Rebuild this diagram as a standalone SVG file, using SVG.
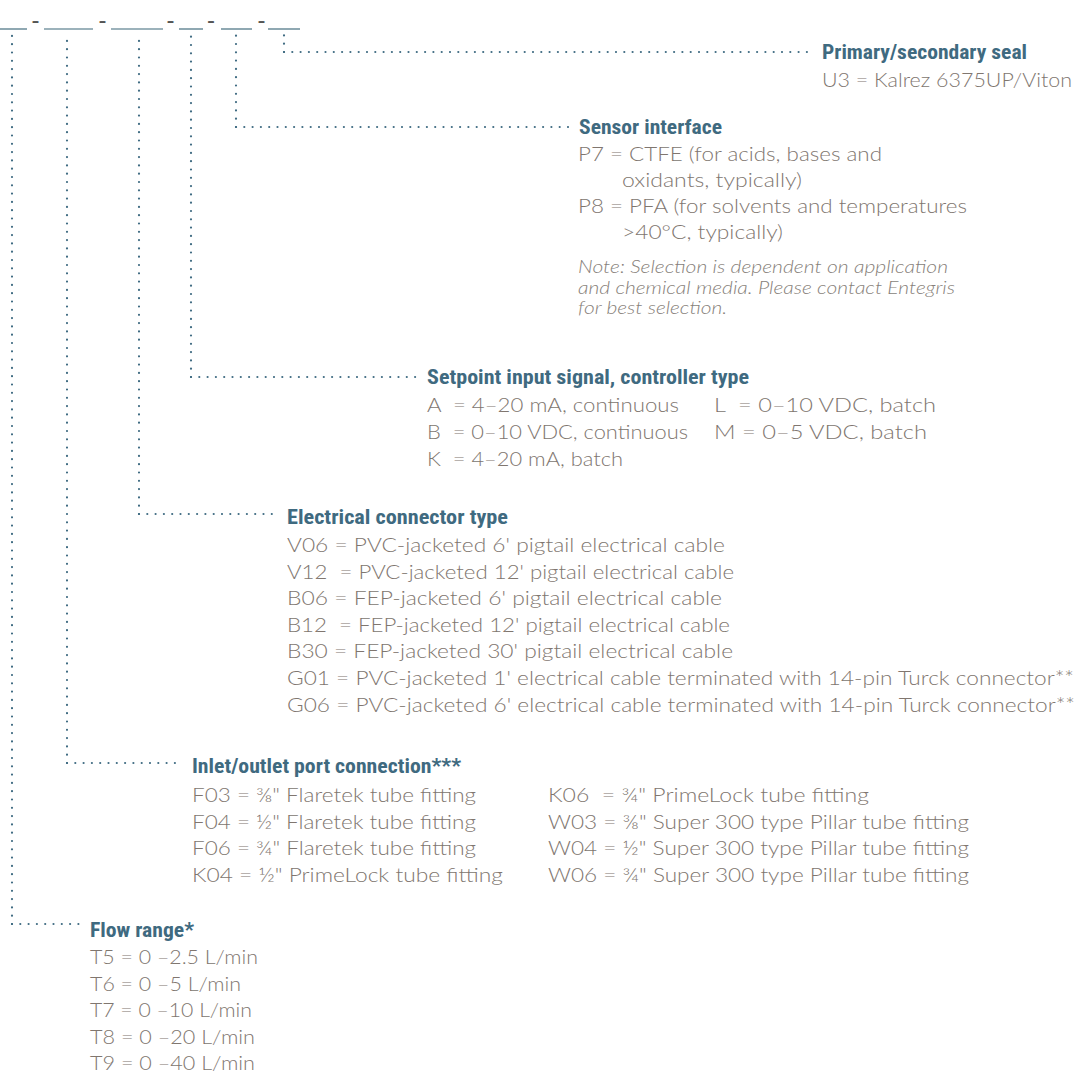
<svg xmlns="http://www.w3.org/2000/svg" width="1078" height="1075" viewBox="0 0 1078 1075">
<style>
.h{font-family:'Liberation Sans Narrow','Roboto Condensed','Liberation Sans',Arial,sans-serif;font-weight:700;font-size:20.5px;fill:#3f6a80}
.b{font-family:Lato,'Open Sans','Liberation Sans',sans-serif;font-weight:300;font-size:19.5px;fill:#80766f}
.n{font-family:Lato,'Open Sans','Liberation Sans',sans-serif;font-weight:300;font-style:italic;font-size:17.5px;fill:#877f7a}
.u{stroke:#7b99a4;stroke-width:1.7;fill:none}
.hy{font-family:'Liberation Sans',Arial,sans-serif;font-size:24px;fill:#555;text-anchor:middle}
.dot{fill:none;stroke:#3f6b82;stroke-width:2.2;stroke-linecap:round;stroke-dasharray:0 8.3}
</style>
<rect width="1078" height="1075" fill="#fff"/>
<g id="code">
<line class="u" x1="0" y1="29" x2="27" y2="29"/>
<line class="u" x1="44" y1="29" x2="93" y2="29"/>
<line class="u" x1="111" y1="29" x2="163" y2="29"/>
<line class="u" x1="179" y1="29" x2="203" y2="29"/>
<line class="u" x1="221" y1="29" x2="252" y2="29"/>
<line class="u" x1="268" y1="29" x2="300" y2="29"/>
<text class="hy" x="35.5" y="27.5">-</text>
<text class="hy" x="102.5" y="27.5">-</text>
<text class="hy" x="170.5" y="27.5">-</text>
<text class="hy" x="211" y="27.5">-</text>
<text class="hy" x="261.5" y="27.5">-</text>
</g>
<g id="connectors">
<path class="dot" d="M284,52 V34"/><path class="dot" d="M284,52 H809"/>
<path class="dot" d="M236,127 V34"/><path class="dot" d="M236,127 H570"/>
<path class="dot" d="M191,377 V34"/><path class="dot" d="M191,377 H420"/>
<path class="dot" d="M139,514 V34"/><path class="dot" d="M139,514 H277"/>
<path class="dot" d="M67,763 V34"/><path class="dot" d="M67,763 H183"/>
<path class="dot" d="M12,924 V34"/><path class="dot" d="M12,924 H82"/>
</g>
<g id="seal">
<text class="h" x="822" y="59" textLength="205" lengthAdjust="spacingAndGlyphs">Primary/secondary seal</text>
<text class="b" x="822" y="87" textLength="250" lengthAdjust="spacingAndGlyphs">U3 = Kalrez 6375UP/Viton</text>
</g>
<g id="sensor">
<text class="h" x="579" y="134" textLength="143" lengthAdjust="spacingAndGlyphs">Sensor interface</text>
<text class="b" x="578" y="161" textLength="304" lengthAdjust="spacingAndGlyphs">P7 = CTFE (for acids, bases and</text>
<text class="b" x="622" y="187" textLength="180" lengthAdjust="spacingAndGlyphs">oxidants, typically)</text>
<text class="b" x="578" y="213" textLength="389" lengthAdjust="spacingAndGlyphs">P8 = PFA (for solvents and temperatures</text>
<text class="b" x="622" y="239" textLength="161" lengthAdjust="spacingAndGlyphs">&gt;40°C, typically)</text>
<text class="n" x="578" y="273" textLength="370" lengthAdjust="spacingAndGlyphs">Note: Selection is dependent on application</text>
<text class="n" x="578" y="294" textLength="377" lengthAdjust="spacingAndGlyphs">and chemical media. Please contact Entegris</text>
<text class="n" x="578" y="314" textLength="149" lengthAdjust="spacingAndGlyphs">for best selection.</text>
</g>
<g id="setpoint">
<text class="h" x="427" y="384" textLength="322" lengthAdjust="spacingAndGlyphs">Setpoint input signal, controller type</text>
<text class="b" x="427" y="412" textLength="252" lengthAdjust="spacingAndGlyphs">A&#160; = 4–20 mA, continuous</text>
<text class="b" x="427" y="439" textLength="261" lengthAdjust="spacingAndGlyphs">B&#160; = 0–10 VDC, continuous</text>
<text class="b" x="427" y="466" textLength="196" lengthAdjust="spacingAndGlyphs">K&#160; = 4–20 mA, batch</text>
<text class="b" x="714" y="412" textLength="222" lengthAdjust="spacingAndGlyphs">L&#160; = 0–10 VDC, batch</text>
<text class="b" x="714" y="439" textLength="213" lengthAdjust="spacingAndGlyphs">M = 0–5 VDC, batch</text>
</g>
<g id="electrical">
<text class="h" x="287" y="524" textLength="221" lengthAdjust="spacingAndGlyphs">Electrical connector type</text>
<text class="b" x="287" y="552" textLength="438" lengthAdjust="spacingAndGlyphs">V06 = PVC-jacketed 6' pigtail electrical cable</text>
<text class="b" x="287" y="578.6" textLength="447" lengthAdjust="spacingAndGlyphs">V12&#160; = PVC-jacketed 12' pigtail electrical cable</text>
<text class="b" x="287" y="605.2" textLength="435" lengthAdjust="spacingAndGlyphs">B06 = FEP-jacketed 6' pigtail electrical cable</text>
<text class="b" x="287" y="631.8" textLength="443" lengthAdjust="spacingAndGlyphs">B12&#160; = FEP-jacketed 12' pigtail electrical cable</text>
<text class="b" x="287" y="658.4" textLength="446" lengthAdjust="spacingAndGlyphs">B30 = FEP-jacketed 30' pigtail electrical cable</text>
<text class="b" x="287" y="685" textLength="787" lengthAdjust="spacingAndGlyphs">G01 = PVC-jacketed 1' electrical cable terminated with 14-pin Turck connector**</text>
<text class="b" x="287" y="711.6" textLength="788" lengthAdjust="spacingAndGlyphs">G06 = PVC-jacketed 6' electrical cable terminated with 14-pin Turck connector**</text>
</g>
<g id="inlet">
<text class="h" x="192" y="773" textLength="269" lengthAdjust="spacingAndGlyphs">Inlet/outlet port connection***</text>
<text class="b" x="192" y="802" textLength="284" lengthAdjust="spacingAndGlyphs">F03 = ⅜" Flaretek tube fitting</text>
<text class="b" x="192" y="828.6" textLength="284" lengthAdjust="spacingAndGlyphs">F04 = ½" Flaretek tube fitting</text>
<text class="b" x="192" y="855.2" textLength="284" lengthAdjust="spacingAndGlyphs">F06 = ¾" Flaretek tube fitting</text>
<text class="b" x="192" y="881.8" textLength="311" lengthAdjust="spacingAndGlyphs">K04 = ½" PrimeLock tube fitting</text>
<text class="b" x="548" y="802" textLength="321" lengthAdjust="spacingAndGlyphs">K06&#160; = ¾" PrimeLock tube fitting</text>
<text class="b" x="548" y="828.6" textLength="421" lengthAdjust="spacingAndGlyphs">W03 = ⅜" Super 300 type Pillar tube fitting</text>
<text class="b" x="548" y="855.2" textLength="421" lengthAdjust="spacingAndGlyphs">W04 = ½" Super 300 type Pillar tube fitting</text>
<text class="b" x="548" y="881.8" textLength="421" lengthAdjust="spacingAndGlyphs">W06 = ¾" Super 300 type Pillar tube fitting</text>
</g>
<g id="flow">
<text class="h" x="90" y="937" textLength="104" lengthAdjust="spacingAndGlyphs">Flow range*</text>
<text class="b" x="90" y="964" textLength="168" lengthAdjust="spacingAndGlyphs">T5 = 0 –2.5 L/min</text>
<text class="b" x="90" y="990.5" textLength="151" lengthAdjust="spacingAndGlyphs">T6 = 0 –5 L/min</text>
<text class="b" x="90" y="1017" textLength="162" lengthAdjust="spacingAndGlyphs">T7 = 0 –10 L/min</text>
<text class="b" x="90" y="1043.5" textLength="165" lengthAdjust="spacingAndGlyphs">T8 = 0 –20 L/min</text>
<text class="b" x="90" y="1070" textLength="165" lengthAdjust="spacingAndGlyphs">T9 = 0 –40 L/min</text>
</g>
</svg>
